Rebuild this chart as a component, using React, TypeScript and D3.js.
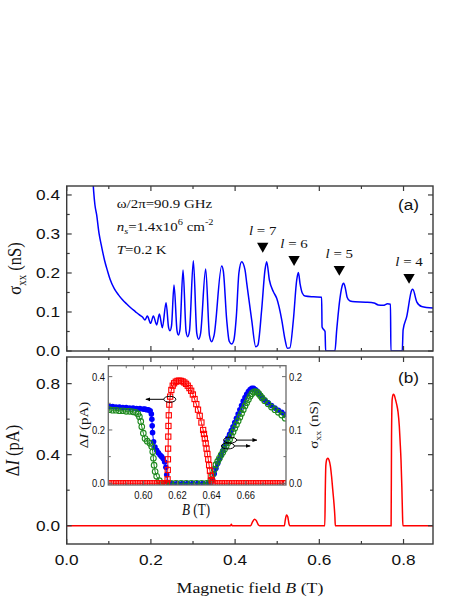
import React from "react";
import * as d3 from "d3";

// ---------------- data ----------------
// (a) sigma_xx (nS) vs B (T)
const sigmaB = [0.061, 0.064, 0.067, 0.071, 0.077, 0.083, 0.09, 0.097, 0.103, 0.113, 0.123, 0.132, 0.142, 0.152, 0.163, 0.172, 0.18, 0.186,
  0.1915, 0.1994, 0.2058, 0.2138, 0.2201, 0.2272, 0.236, 0.242, 0.2454, 0.249, 0.2549, 0.262, 0.2652, 0.269, 0.2763, 0.2835, 0.2873, 0.2915,
  0.3008, 0.309, 0.3135, 0.318, 0.3301, 0.339, 0.3443, 0.35, 0.3681, 0.372, 0.38, 0.386, 0.3918, 0.397, 0.403, 0.409, 0.4156, 0.4235, 0.4276,
  0.4394, 0.449, 0.454, 0.463, 0.471, 0.475, 0.4814, 0.4909, 0.4988, 0.5107, 0.5186, 0.5242, 0.53, 0.5384, 0.5463, 0.5503, 0.5542, 0.5598,
  0.566, 0.586, 0.6055, 0.6065, 0.6081, 0.6136, 0.615, 0.637, 0.6413, 0.649, 0.656, 0.658, 0.662, 0.666, 0.673, 0.685, 0.71, 0.73, 0.74,
  0.752, 0.762, 0.769, 0.77, 0.797, 0.799, 0.8076, 0.8195, 0.822, 0.8314, 0.843, 0.87];
const sigmaV = [0.46, 0.41, 0.375, 0.35, 0.3, 0.267, 0.232, 0.205, 0.184, 0.16, 0.144, 0.132, 0.121, 0.111, 0.101, 0.093, 0.087, 0.0795,
  0.0897, 0.071, 0.09, 0.0667, 0.0949, 0.0598, 0.1238, 0.06, 0.0521, 0.065, 0.1692, 0.052, 0.041, 0.055, 0.2077, 0.05, 0.0368, 0.05,
  0.2315, 0.045, 0.0299, 0.045, 0.2103, 0.04, 0.0239, 0.04, 0.2179, 0.205, 0.08, 0.025, 0.0179, 0.028, 0.09, 0.2, 0.229, 0.208, 0.174,
  0.079, 0.011, 0.015, 0.105, 0.208, 0.229, 0.182, 0.152, 0.135, 0.08, 0.029, 0.007, 0.008, 0.08, 0.182, 0.201, 0.173, 0.148,
  0.141, 0.139, 0.138, 0.062, 0.058, 0.05, 0.0, 0.0, 0.054, 0.135, 0.172, 0.174, 0.16, 0.138, 0.128, 0.126, 0.125, 0.123, 0.118,
  0.117, 0.121, 0.12, 0.0, 0.0, 0.054, 0.088, 0.156, 0.158, 0.126, 0.114, 0.11];

// resonance markers
const triB = [0.4656, 0.54, 0.6475, 0.8131];
const triV = [0.269, 0.235, 0.2095, 0.189];
const triLabels = ["7", "6", "5", "4"];

// (b) Delta I (pA) vs B (T)
const dIB = [0.0, 0.1, 0.2, 0.3, 0.389, 0.391, 0.393, 0.437, 0.441, 0.446, 0.45, 0.455, 0.458, 0.517, 0.519, 0.522, 0.525, 0.528, 0.53,
  0.613, 0.6142, 0.6155, 0.618, 0.6205, 0.623, 0.626, 0.629, 0.632, 0.635, 0.637, 0.638, 0.7705, 0.7715, 0.773, 0.7755, 0.778, 0.781,
  0.784, 0.787, 0.79, 0.792, 0.794, 0.796, 0.7975, 0.7985, 0.87];
const dIV = [0.0, 0.0, 0.0, 0.0, 0.0, 0.008, 0.0, 0.0, 0.02, 0.037, 0.03, 0.005, 0.0, 0.0, 0.03, 0.06, 0.05, 0.01, 0.0,
  0.0, 0.2, 0.34, 0.375, 0.38, 0.37, 0.34, 0.28, 0.2, 0.12, 0.05, 0.0, 0.0, 0.5, 0.71, 0.74, 0.735, 0.71,
  0.68, 0.64, 0.56, 0.47, 0.37, 0.22, 0.07, 0.0, 0.0];

// inset: red squares Delta I (pA, left axis)
const insRedB = [0.58, 0.582, 0.584, 0.586, 0.588, 0.59, 0.592, 0.594, 0.596, 0.598, 0.6, 0.602, 0.604, 0.606, 0.608, 0.61, 0.612, 0.6138,
  0.6142, 0.6143, 0.6144, 0.6145, 0.6146, 0.6147, 0.6149, 0.6152, 0.6157, 0.6164, 0.6172, 0.618, 0.619, 0.62, 0.621, 0.622, 0.623, 0.624,
  0.625, 0.626, 0.627, 0.628, 0.629, 0.63, 0.631, 0.632, 0.633, 0.634, 0.635, 0.6355, 0.636, 0.6365, 0.637, 0.6375, 0.638, 0.6385, 0.639,
  0.6395, 0.64, 0.6405, 0.642, 0.644, 0.646, 0.648, 0.65, 0.652, 0.654, 0.656, 0.658, 0.66, 0.662, 0.664, 0.666, 0.668, 0.67, 0.672,
  0.674, 0.676, 0.678, 0.68, 0.682, 0.6835];
const insRedV = [0, 0, 0, 0, 0, 0, 0, 0, 0, 0, 0, 0, 0, 0, 0, 0, 0, 0,
  0.015, 0.05, 0.09, 0.13, 0.175, 0.215, 0.255, 0.295, 0.325, 0.35, 0.366, 0.375, 0.381, 0.384, 0.385, 0.384, 0.382, 0.378,
  0.373, 0.366, 0.357, 0.347, 0.333, 0.316, 0.297, 0.276, 0.253, 0.228, 0.2, 0.185, 0.168, 0.15, 0.13, 0.11, 0.09, 0.068, 0.047,
  0.028, 0.012, 0.002, 0, 0, 0, 0, 0, 0, 0, 0, 0, 0, 0, 0, 0, 0, 0, 0,
  0, 0, 0, 0, 0, 0];

// inset: blue filled circles sigma_xx (nS, right axis)
const insBlueB = [0.58, 0.582, 0.584, 0.586, 0.588, 0.59, 0.592, 0.594, 0.596, 0.598, 0.6, 0.601, 0.602, 0.603, 0.604, 0.6047, 0.605,
  0.6052, 0.6054, 0.606, 0.6068, 0.6078, 0.6088, 0.6098, 0.6107, 0.6117, 0.6125, 0.6132, 0.6137, 0.6141, 0.617, 0.62, 0.623, 0.626, 0.629,
  0.632, 0.635, 0.638, 0.6395, 0.6405, 0.6415, 0.6425, 0.6435, 0.6445, 0.6455, 0.6465, 0.6475, 0.6485, 0.6495, 0.6505, 0.6515, 0.6525,
  0.6535, 0.6545, 0.6555, 0.6565, 0.6575, 0.6585, 0.6595, 0.6605, 0.6615, 0.6625, 0.6635, 0.6645, 0.6655, 0.6665, 0.6675, 0.6685, 0.6695,
  0.671, 0.673, 0.675, 0.677, 0.679, 0.681, 0.683];
const insBlueV = [0.144, 0.144, 0.143, 0.143, 0.142, 0.142, 0.141, 0.141, 0.14, 0.14, 0.139, 0.139, 0.138, 0.138, 0.136, 0.13, 0.12,
  0.108, 0.095, 0.078, 0.068, 0.062, 0.057, 0.053, 0.05, 0.046, 0.04, 0.03, 0.016, 0.002, 0, 0, 0, 0, 0,
  0, 0, 0, 0.0, 0.007, 0.018, 0.028, 0.037, 0.045, 0.053, 0.061, 0.069, 0.077, 0.085, 0.092, 0.099, 0.106,
  0.114, 0.122, 0.13, 0.138, 0.146, 0.154, 0.161, 0.167, 0.172, 0.176, 0.178, 0.178, 0.176, 0.173, 0.169, 0.165, 0.161,
  0.156, 0.151, 0.146, 0.141, 0.137, 0.133, 0.129];

// inset: green open circles sigma_xx (nS, right axis)
const insGreenB = [0.58, 0.582, 0.584, 0.586, 0.588, 0.59, 0.592, 0.594, 0.5955, 0.5968, 0.5977, 0.5985, 0.5991, 0.6, 0.601, 0.6023,
  0.6039, 0.6049, 0.6055, 0.6059, 0.6063, 0.6069, 0.6078, 0.6094, 0.6107, 0.613, 0.616, 0.619, 0.622, 0.625, 0.628, 0.631, 0.634, 0.637,
  0.6385, 0.6395, 0.6405, 0.6415, 0.6425, 0.6435, 0.6445, 0.6455, 0.6465, 0.6475, 0.6485, 0.6495, 0.6505, 0.6515, 0.6525, 0.6535,
  0.6545, 0.6555, 0.6565, 0.6575, 0.6585, 0.6595, 0.6605, 0.6615, 0.6625, 0.6635, 0.6645, 0.6655, 0.6665, 0.6675, 0.6685, 0.6695,
  0.671, 0.673, 0.675, 0.677, 0.679, 0.681, 0.683];
const insGreenV = [0.138, 0.137, 0.137, 0.136, 0.136, 0.135, 0.135, 0.134, 0.133, 0.13, 0.125, 0.116, 0.106, 0.094, 0.084, 0.079,
  0.075, 0.069, 0.059, 0.047, 0.034, 0.022, 0.013, 0.005, 0, 0, 0, 0, 0, 0, 0, 0, 0, 0,
  0, 0.006, 0.016, 0.026, 0.035, 0.041, 0.047, 0.053, 0.058, 0.064, 0.07, 0.076, 0.082, 0.089, 0.096, 0.103,
  0.11, 0.117, 0.124, 0.131, 0.138, 0.145, 0.151, 0.157, 0.163, 0.168, 0.171, 0.172, 0.171, 0.168, 0.164, 0.16,
  0.155, 0.149, 0.143, 0.138, 0.133, 0.128, 0.122];

// ticks
const xMajor = [0, 0.2, 0.4, 0.6, 0.8];
const xMinor = [0.1, 0.3, 0.5, 0.7];
const xLabels = ["0.0", "0.2", "0.4", "0.6", "0.8"];
const yTopMajor = [0, 0.1, 0.2, 0.3, 0.4];
const yTopMinor = [0.05, 0.15, 0.25, 0.35];
const yTopLabels = ["0.0", "0.1", "0.2", "0.3", "0.4"];
const yBotMajor = [0, 0.4, 0.8];
const yBotMinor = [0.2, 0.6];
const yBotLabels = ["0.0", "0.4", "0.8"];
const insXMajor = [0.6, 0.62, 0.64, 0.66];
const insXMinor = [0.59, 0.61, 0.63, 0.65, 0.67, 0.68];
const insXLabels = ["0.60", "0.62", "0.64", "0.66"];
const insLMajor = [0, 0.2, 0.4];
const insLMinor = [0.1, 0.3];
const insLLabels = ["0.0", "0.2", "0.4"];
const insRMajor = [0, 0.1, 0.2];
const insRMinor = [0.05, 0.15];
const insRLabels = ["0.0", "0.1", "0.2"];

const SANS = "'Liberation Sans', Arial, sans-serif";
const SERIF = "'Liberation Serif', 'Times New Roman', serif";
const BLUE = "#0000ff";
const RED = "#ff0000";
const GREEN = "#1f8a1f";

type P = [number, number];
const zip = (a: number[], b: number[]): P[] => a.map((v, i) => [v, b[i]] as P);

function XTicks({ s, vals, y0, y1, len, stroke, w }: any) {
  return (
    <g stroke={stroke} strokeWidth={w}>
      {vals.map((v: number) => (
        <g key={v}>
          <line x1={s(v)} x2={s(v)} y1={y0} y2={y0 - len} />
          <line x1={s(v)} x2={s(v)} y1={y1} y2={y1 + len} />
        </g>
      ))}
    </g>
  );
}
function YTick({ s, vals, x, dir, len, stroke, w }: any) {
  return (
    <g stroke={stroke} strokeWidth={w}>
      {vals.map((v: number) => (
        <line key={v} x1={x} x2={x + dir * len} y1={s(v)} y2={s(v)} />
      ))}
    </g>
  );
}

export default function App() {
  // main scales
  const L = 66.7, R = 433;
  const x = d3.scaleLinear().domain([0, 0.87]).range([L, R]);
  const aTop = 186, aBot = 351;
  const yA = d3.scaleLinear().domain([0, 0.423]).range([aBot, aTop]);
  const bTop = 357, bBot = 544;
  const yB = d3.scaleLinear().domain([-0.103, 0.95]).range([bBot, bTop]);

  // inset scales
  const iL = 108.3, iR = 286, iT = 365.7, iB = 485;
  const xi = d3.scaleLinear().domain([0.5795, 0.6835]).range([iL, iR]);
  const yiL = d3.scaleLinear().domain([-0.0064, 0.441]).range([iB, iT]);
  const yiR = d3.scaleLinear().domain([-0.0032, 0.2205]).range([iB, iT]);

  const lineA = d3.line<P>().x(d => x(d[0])).y(d => yA(d[1])).curve(d3.curveMonotoneX);
  const lineB = d3.line<P>().x(d => x(d[0])).y(d => yB(d[1])).curve(d3.curveMonotoneX);
  const lineIL = d3.line<P>().x(d => xi(d[0])).y(d => yiL(d[1]));
  const lineIR = d3.line<P>().x(d => xi(d[0])).y(d => yiR(d[1]));

  const sigma = zip(sigmaB, sigmaV);
  const dI = zip(dIB, dIV);
  const red = zip(insRedB, insRedV);
  const blue = zip(insBlueB, insBlueV);
  const green = zip(insGreenB, insGreenV);

  const tri = d3.symbol().type(d3.symbolTriangle).size(56)() as string;
  const frame = "#3a3a3a";
  const iframe = "#6a6a6a";

  const MS = 1.15; // horizontal text stretch of the main figure
  const IS = 0.82; // horizontal text squeeze of the inset

  return (
    <div style={{ position: "absolute", left: 0, top: 0 }}>
      <svg width={463} height={599} viewBox="0 0 463 599" style={{ display: "block", background: "#fff" }}>
        <defs>
          <clipPath id="clipA"><rect x={L} y={aTop} width={R - L} height={aBot - aTop} /></clipPath>
          <clipPath id="clipB"><rect x={L} y={bTop} width={R - L} height={bBot - bTop} /></clipPath>
          <clipPath id="clipI"><rect x={iL} y={iT - 3} width={iR - iL} height={iB - iT + 3} /></clipPath>
          <marker id="arr" viewBox="0 0 10 10" refX="9" refY="5" markerWidth="5" markerHeight="5" orient="auto-start-reverse">
            <path d="M0,1 L10,5 L0,9 z" fill="#000" />
          </marker>
        </defs>
        <rect x={0} y={0} width={463} height={599} fill="#fff" />

        {/* ---------- panel (a) ---------- */}
        <path d={lineA(sigma) || ""} fill="none" stroke={BLUE} strokeWidth={1.5} clipPath="url(#clipA)" />
        <rect x={L} y={aTop} width={R - L} height={aBot - aTop} fill="none" stroke={frame} strokeWidth={1.4} />
        <XTicks s={x} vals={xMajor} y0={aBot} y1={aTop} len={5} stroke={frame} w={1.2} />
        <XTicks s={x} vals={xMinor} y0={aBot} y1={aTop} len={3} stroke={frame} w={1.2} />
        <YTick s={yA} vals={yTopMajor} x={L} dir={1} len={5} stroke={frame} w={1.2} />
        <YTick s={yA} vals={yTopMinor} x={L} dir={1} len={3} stroke={frame} w={1.2} />
        <YTick s={yA} vals={yTopMajor} x={R} dir={-1} len={5} stroke={frame} w={1.2} />
        <YTick s={yA} vals={yTopMinor} x={R} dir={-1} len={3} stroke={frame} w={1.2} />
        {yTopMajor.map((v, i) => (
          <text key={v} transform={`translate(60,${yA(v)}) scale(${MS},1)`} dy="0.36em" textAnchor="end"
            fontFamily={SANS} fontSize={15} fill="#111">{yTopLabels[i]}</text>
        ))}
        <text transform={`translate(21,${(aTop + aBot) / 2}) rotate(-90) scale(1,${MS})`} textAnchor="middle"
          fontFamily={SERIF} fontSize={16.5} fill="#111">
          σ<tspan fontSize={11} dy={4}>xx</tspan><tspan dy={-4}> (nS)</tspan>
        </text>
        <text transform={`translate(398,210) scale(${MS},1)`} fontFamily={SANS} fontSize={15} fill="#111">(a)</text>

        <g fontFamily={SERIF} fontSize={13} fill="#111">
          <text transform={`translate(116.7,208) scale(${MS},1)`}>ω/2π=90.9 GHz</text>
          <text transform={`translate(116.7,231) scale(${MS},1)`}>
            <tspan fontStyle="italic">n</tspan>
            <tspan fontStyle="italic" fontSize={9} dy={3}>s</tspan>
            <tspan dy={-3}>=1.4x10</tspan>
            <tspan fontSize={9} dy={-6}>6</tspan>
            <tspan dy={6}> cm</tspan>
            <tspan fontSize={9} dy={-6}>-2</tspan>
          </text>
          <text transform={`translate(116.7,254) scale(${MS},1)`}>
            <tspan fontStyle="italic">T</tspan>=0.2 K
          </text>
        </g>

        {triB.map((b, i) => (
          <g key={b}>
            <path d={tri} transform={`translate(${x(b)},${yA(triV[i])}) rotate(180)`} fill="#000" />
            <text transform={`translate(${x(b)},${yA(triV[i]) - 11}) scale(${MS},1)`} textAnchor="middle"
              fontFamily={SERIF} fontSize={13} fill="#111">
              <tspan fontStyle="italic">l</tspan> = {triLabels[i]}
            </text>
          </g>
        ))}

        {/* ---------- panel (b) ---------- */}
        <path d={lineB(dI) || ""} fill="none" stroke={RED} strokeWidth={1.5} clipPath="url(#clipB)" />
        <rect x={L} y={bTop} width={R - L} height={bBot - bTop} fill="none" stroke={frame} strokeWidth={1.4} />
        <XTicks s={x} vals={xMajor} y0={bBot} y1={bTop} len={5} stroke={frame} w={1.2} />
        <XTicks s={x} vals={xMinor} y0={bBot} y1={bTop} len={3} stroke={frame} w={1.2} />
        <YTick s={yB} vals={yBotMajor} x={L} dir={1} len={5} stroke={frame} w={1.2} />
        <YTick s={yB} vals={yBotMinor} x={L} dir={1} len={3} stroke={frame} w={1.2} />
        <YTick s={yB} vals={yBotMajor} x={R} dir={-1} len={5} stroke={frame} w={1.2} />
        <YTick s={yB} vals={yBotMinor} x={R} dir={-1} len={3} stroke={frame} w={1.2} />
        {yBotMajor.map((v, i) => (
          <text key={v} transform={`translate(60,${yB(v)}) scale(${MS},1)`} dy="0.36em" textAnchor="end"
            fontFamily={SANS} fontSize={15} fill="#111">{yBotLabels[i]}</text>
        ))}
        {xMajor.map((v, i) => (
          <text key={v} transform={`translate(${x(v)},565) scale(${MS},1)`} textAnchor="middle"
            fontFamily={SANS} fontSize={15} fill="#111">{xLabels[i]}</text>
        ))}
        <text transform={`translate(19,${(bTop + bBot) / 2}) rotate(-90) scale(1,${MS})`} textAnchor="middle"
          fontFamily={SERIF} fontSize={16.5} fill="#111">
          Δ<tspan fontStyle="italic">I</tspan> (pA)
        </text>
        <text transform={`translate(398,383) scale(${MS},1)`} fontFamily={SANS} fontSize={15} fill="#111">(b)</text>
        <text transform={`translate(250,593) scale(${MS},1)`} textAnchor="middle" fontFamily={SERIF} fontSize={15.5} fill="#111">
          Magnetic field <tspan fontStyle="italic">B</tspan> (T)
        </text>

        {/* ---------- inset ---------- */}
        <rect x={iL} y={iT} width={iR - iL} height={iB - iT} fill="#fff" />
        <g clipPath="url(#clipI)">
          <path d={lineIR(blue) || ""} fill="none" stroke={BLUE} strokeWidth={1} />
          {blue.map((d, i) => (
            <circle key={"b" + i} cx={xi(d[0])} cy={yiR(d[1])} r={2.8} fill={BLUE} />
          ))}
          <path d={lineIR(green) || ""} fill="none" stroke={GREEN} strokeWidth={1} />
          {green.map((d, i) => (
            <circle key={"g" + i} cx={xi(d[0])} cy={yiR(d[1])} r={2.8} fill="none" stroke={GREEN} strokeWidth={1.1} />
          ))}
          <path d={lineIL(red) || ""} fill="none" stroke={RED} strokeWidth={1} />
          {red.map((d, i) => (
            <rect key={"r" + i} x={xi(d[0]) - 2.6} y={yiL(d[1]) - 2.6} width={5.2} height={5.2} fill="none" stroke={RED} strokeWidth={1.1} />
          ))}
        </g>
        <rect x={iL} y={iT} width={iR - iL} height={iB - iT} fill="none" stroke={iframe} strokeWidth={1.3} />
        <XTicks s={xi} vals={insXMajor} y0={iB} y1={iT} len={4} stroke={iframe} w={1} />
        <XTicks s={xi} vals={insXMinor} y0={iB} y1={iT} len={2.5} stroke={iframe} w={1} />
        <YTick s={yiL} vals={insLMajor} x={iL} dir={1} len={4} stroke={iframe} w={1} />
        <YTick s={yiL} vals={insLMinor} x={iL} dir={1} len={2.5} stroke={iframe} w={1} />
        <YTick s={yiR} vals={insRMajor} x={iR} dir={-1} len={4} stroke={iframe} w={1} />
        <YTick s={yiR} vals={insRMinor} x={iR} dir={-1} len={2.5} stroke={iframe} w={1} />
        {insXMajor.map((v, i) => (
          <text key={v} transform={`translate(${xi(v)},499) scale(${IS},1)`} textAnchor="middle"
            fontFamily={SANS} fontSize={11.5} fill="#111">{insXLabels[i]}</text>
        ))}
        {insLMajor.map((v, i) => (
          <text key={v} transform={`translate(105,${yiL(v)}) scale(${IS},1)`} dy="0.36em" textAnchor="end"
            fontFamily={SANS} fontSize={11.5} fill="#111">{insLLabels[i]}</text>
        ))}
        {insRMajor.map((v, i) => (
          <text key={v} transform={`translate(289,${yiR(v)}) scale(${IS},1)`} dy="0.36em" textAnchor="start"
            fontFamily={SANS} fontSize={11.5} fill="#111">{insRLabels[i]}</text>
        ))}
        <text transform={`translate(196,515) scale(${IS},1)`} textAnchor="middle" fontFamily={SERIF} fontSize={16} fill="#111">
          <tspan fontStyle="italic">B</tspan> (T)
        </text>
        <text transform={`translate(88,425) rotate(-90) scale(1,${IS})`} textAnchor="middle" fontFamily={SERIF} fontSize={15} fill="#111">
          Δ<tspan fontStyle="italic">I</tspan> (pA)
        </text>
        <text transform={`translate(318,425) rotate(-90) scale(1,${IS})`} textAnchor="middle" fontFamily={SERIF} fontSize={15} fill="#111">
          σ<tspan fontSize={10} dy={4}>xx</tspan><tspan dy={-4}> (nS)</tspan>
        </text>

        {/* inset annotations: ellipses with arrows towards the relevant axis */}
        <g fill="none" stroke="#000" strokeWidth={1}>
          <ellipse cx={xi(0.6155)} cy={yiL(0.315)} rx={6} ry={3} />
          <line x1={xi(0.6155) - 6} y1={yiL(0.315)} x2={xi(0.6015)} y2={yiL(0.315)} markerEnd="url(#arr)" />
          <ellipse cx={xi(0.6508)} cy={yiR(0.081)} rx={6.5} ry={3} />
          <line x1={xi(0.6508) + 6.5} y1={yiR(0.081)} x2={xi(0.6665)} y2={yiR(0.081)} markerEnd="url(#arr)" />
          <ellipse cx={xi(0.6495)} cy={yiR(0.07)} rx={6.5} ry={3} />
          <line x1={xi(0.6495) + 6.5} y1={yiR(0.07)} x2={xi(0.6625)} y2={yiR(0.07)} markerEnd="url(#arr)" />
        </g>
      </svg>
    </div>
  );
}
